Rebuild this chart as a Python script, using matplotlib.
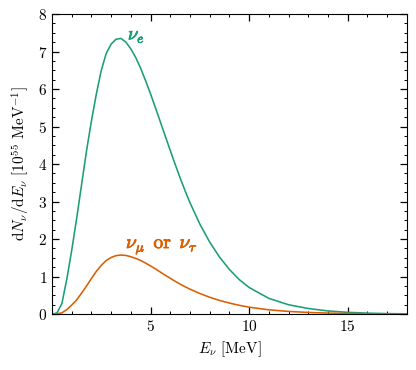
import matplotlib
matplotlib.use("Agg")
import matplotlib.pyplot as plt
import matplotlib.patheffects as pe
from matplotlib.ticker import MultipleLocator

# neutrino energy grid [MeV]
energy = [0, 0.25, 0.5, 0.75, 1.0, 1.25, 1.5, 1.75, 2.0, 2.25, 2.5, 2.75, 3.0, 3.25, 3.5, 3.75,
          4.0, 4.25, 4.5, 4.75, 5.0, 5.25, 5.5, 5.75, 6.0, 6.25, 6.5, 6.75, 7.0, 7.5, 8.0, 8.5,
          9.0, 9.5, 10, 11, 12, 13, 14, 15, 16, 17, 18]

# dN/dE in units of 1e55 / MeV
nu_e = [0, 0.03, 0.28, 0.93, 1.7, 2.55, 3.45, 4.35, 5.15, 5.87, 6.5, 6.95, 7.2, 7.33, 7.35, 7.25,
        7.07, 6.84, 6.55, 6.22, 5.87, 5.5, 5.12, 4.74, 4.36, 3.99, 3.63, 3.29, 2.97, 2.4, 1.92, 1.52,
        1.19, 0.92, 0.71, 0.42, 0.25, 0.15, 0.085, 0.048, 0.026, 0.014, 0.008]

nu_x = [0, 0.005, 0.035, 0.12, 0.24, 0.38, 0.56, 0.75, 0.95, 1.14, 1.3, 1.43, 1.51, 1.56, 1.575, 1.565,
        1.53, 1.485, 1.43, 1.36, 1.285, 1.205, 1.12, 1.035, 0.955, 0.875, 0.8, 0.73, 0.665, 0.55, 0.45, 0.365,
        0.295, 0.235, 0.185, 0.115, 0.072, 0.045, 0.028, 0.017, 0.01, 0.006, 0.004]

green = '#1b9e77'
orange = '#d95f02'

plt.rcParams['font.family'] = 'serif'
plt.rcParams['font.serif'] = ['cmr10']
plt.rcParams['mathtext.fontset'] = 'cm'
plt.rcParams['axes.formatter.use_mathtext'] = True
plt.rcParams['font.size'] = 11

fig = plt.figure(figsize=(4.16, 3.70), dpi=100)
ax = fig.add_axes([0.125, 0.151, 0.853, 0.811])

ax.plot(energy, nu_e, color=green, lw=1.15)
ax.plot(energy, nu_x, color=orange, lw=1.15)

# fake bold for the greek letters
bold_g = [pe.withStroke(linewidth=0.6, foreground=green)]
bold_o = [pe.withStroke(linewidth=0.6, foreground=orange)]
ax.text(3.85, 7.42, r'$\nu_e$', color=green, fontsize=13.5, va='center', path_effects=bold_g)
ax.text(3.75, 1.8, r'$\nu_\mu\ \,\mathrm{or}\ \,\nu_\tau$', color=orange,
        fontsize=14, va='center', path_effects=bold_o)

ax.set_xlim(0, 18)
ax.set_ylim(0, 8)
ax.set_xticks([5, 10, 15])
ax.xaxis.set_minor_locator(MultipleLocator(1))
ax.yaxis.set_major_locator(MultipleLocator(1))
ax.yaxis.set_minor_locator(MultipleLocator(0.25))
ax.tick_params(which='both', direction='in', top=True, right=True)
ax.tick_params(which='major', length=5, width=0.9)
ax.tick_params(which='minor', length=2.5, width=0.7)

ax.set_xlabel(r'$E_\nu$ [MeV]')
ax.set_ylabel(r'$\mathrm{d}N_\nu/\mathrm{d}E_\nu$ [$10^{55}$ MeV$^{-1}$]')

fig.savefig('out.png', dpi=100)
